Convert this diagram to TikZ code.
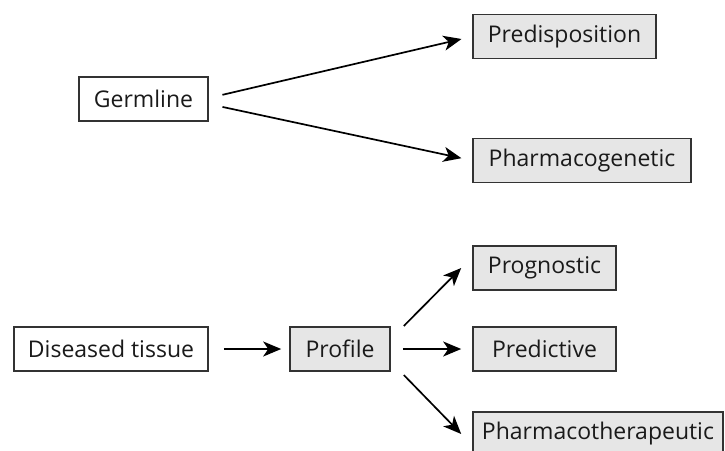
\documentclass[tikz,border=0pt]{standalone}
\usepackage{fontspec}
\setmainfont{Open Sans}
\usetikzlibrary{arrows.meta}
\definecolor{boxfill}{HTML}{E6E6E6}
\definecolor{boxline}{HTML}{333333}
\definecolor{txt}{HTML}{1A1A1A}
\tikzset{
  plainbox/.style={draw=boxline, line width=1.6pt, fill=white, minimum height=44pt, inner sep=0pt, text=txt, font=\fontsize{23}{28}\selectfont},
  greybox/.style={plainbox, fill=boxfill},
  arr/.style={line width=1.7pt, -{Stealth[length=18pt,width=15pt,inset=5pt]}}
}
\begin{document}
\begin{tikzpicture}[x=1pt,y=-1pt]
\useasboundingbox (0,0) rectangle (725,450);
\clip (0,0) rectangle (725,450);
\fill[white] (0,0) rectangle (725,450);
% top group
\node[plainbox, minimum width=129pt] (g) at (143.5,99) {Germline};
\node[greybox, minimum width=183pt] (pd) at (564.5,36.5) {Predisposition};
\node[greybox, minimum width=218pt] (pg) at (582,160.5) {Pharmacogenetic};
\draw[arr, shorten <=14pt, shorten >=11pt] ([yshift=1pt]g.east) -- (pd.west);
\draw[arr, shorten <=14pt, shorten >=11pt] ([yshift=-5pt]g.east) -- (pg.west);
% bottom group
\node[plainbox, minimum width=194pt] (dt) at (111,349) {Diseased tissue};
\node[greybox, minimum width=100pt] (pf) at (340,349) {Profile};
\node[greybox, minimum width=143pt] (pr) at (544.5,268) {Prognostic};
\node[greybox, minimum width=143pt] (pc) at (544.5,349) {Predictive};
\node[greybox, minimum width=250pt] (pt) at (598,434) {Pharmacotherapeutic};
\draw[arr, shorten <=15pt, shorten >=8pt] (dt.east) -- (pf.west);
\draw[arr, shorten <=12pt, shorten >=11pt] (pf.east) -- (pc.west);
\draw[arr] ([xshift=13pt,yshift=23pt]pf.east) -- ([xshift=-11pt]pr.west);
\draw[arr] ([xshift=13pt,yshift=-26pt]pf.east) -- ([xshift=-11pt]pt.west);
\end{tikzpicture}
\end{document}
